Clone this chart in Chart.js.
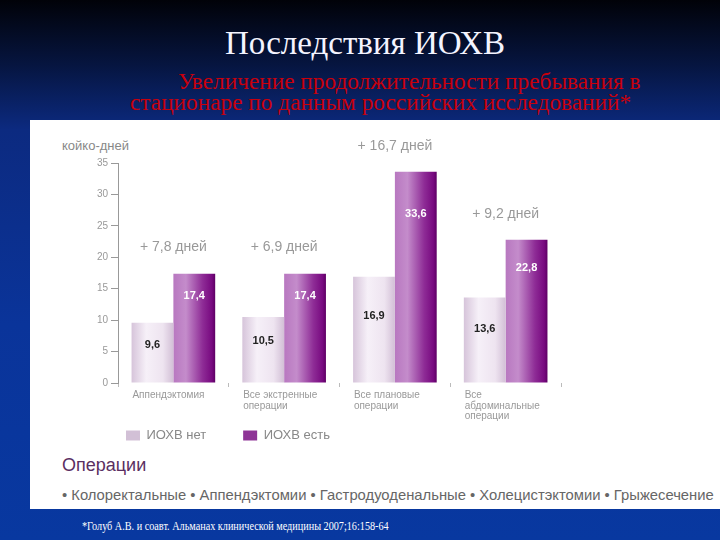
<!DOCTYPE html>
<html>
<head>
<meta charset="utf-8">
<script src="https://cdn.jsdelivr.net/npm/chart.js@4/dist/chart.umd.min.js"></script>
<style>
  body { margin: 0; width: 720px; height: 540px; overflow: hidden;
         background: linear-gradient(#010208 0%, #061540 12%, #0c2a80 24%, #0a349a 60%, #0838a0 100%);
         position: relative; font-family: "Liberation Sans", Arial, sans-serif; }
  .title { position: absolute; left: 0; width: 730px; top: 25px; text-align: center;
           font: 33px "Liberation Serif", serif; color: #f4f4ff; }
  .sub { position: absolute; color: #c8000c; font: 23.3px "Liberation Serif", serif; white-space: nowrap; }
  .panel { position: absolute; left: 30px; top: 120px; width: 690px; height: 389px; background: #fff; }
  .unit { position: absolute; left: 62px; top: 138px; font-size: 13px; color: #888; }
  .ops { position: absolute; left: 62px; top: 455px; font-size: 18px; color: #5a2f62; }
  .list { position: absolute; left: 62px; top: 487px; font-size: 14.8px; color: #666; white-space: nowrap; }
  .note { position: absolute; left: 82px; top: 519px; font: 12px "Liberation Serif", serif; color: #fff;
          white-space: nowrap; transform: scaleX(0.85); transform-origin: left center; }
  #wrap { position: absolute; left: 60px; top: 130px; width: 524px; height: 322px; }
</style>
</head>
<body>
<div class="title">Последствия ИОХВ</div>
<div class="sub" style="left:178px; top:68px;">Увеличение продолжительности пребывания в</div>
<div class="sub" style="left:130px; top:89px;">стационаре по данным российских исследований*</div>
<div class="panel"></div>
<div class="unit">койко-дней</div>
<div id="wrap"><canvas id="myChart"></canvas></div>
<div class="ops">Операции</div>
<div class="list">• Колоректальные • Аппендэктомии • Гастродуоденальные • Холецистэктомии • Грыжесечение</div>
<div class="note">*Голуб А.В. и соавт. Альманах клинической медицины 2007;16:158-64</div>
<script>
// categories and values (койко-дней)
var categories = [
    'Аппендэктомия',
    ['Все экстренные', 'операции'],
    ['Все плановые', 'операции'],
    ['Все', 'абдоминальные', 'операции']
];
var noInfection = [9.6, 10.5, 16.9, 13.6];
var withInfection = [17.4, 17.4, 33.6, 22.8];
var seriesNames = ['ИОХВ нет', 'ИОХВ есть'];
var yTicks = [0, 5, 10, 15, 20, 25, 30, 35];

var catPct = 0.755;

function fmt(v) {
    return v.toFixed(1).replace('.', ',');
}

// horizontal gradient per bar to get the cylinder look
function barFill(stops, flat) {
    return function(c) {
        var chart = c.chart;
        if (!chart.chartArea || c.dataIndex === undefined) return flat;
        var xs = chart.scales.x;
        var center = xs.getPixelForValue(c.dataIndex);
        var w = (xs.width / categories.length) * catPct / 2;
        var left = c.datasetIndex === 0 ? center - w : center;
        var g = chart.ctx.createLinearGradient(left, 0, left + w, 0);
        stops.forEach(function(s) { g.addColorStop(s[0], s[1]); });
        return g;
    };
}

var valueLabels = {
    id: 'valueLabels',
    afterDatasetsDraw: function(chart) {
        var ctx = chart.ctx;
        var m0 = chart.getDatasetMeta(0).data;
        var m1 = chart.getDatasetMeta(1).data;
        var base = chart.scales.y.getPixelForValue(0);
        ctx.save();
        ctx.textAlign = 'center';
        ctx.textBaseline = 'middle';
        ctx.font = 'bold 11px "Liberation Sans", Arial';
        m0.forEach(function(el, i) {
            ctx.fillStyle = '#222';
            ctx.fillText(fmt(noInfection[i]), el.x, el.y + (base - el.y) * 0.37);
        });
        m1.forEach(function(el, i) {
            ctx.fillStyle = '#fff';
            ctx.fillText(fmt(withInfection[i]), el.x, el.y + (base - el.y) * 0.2);
        });
        // difference above each group
        ctx.font = '14px "Liberation Sans", Arial';
        ctx.fillStyle = '#999';
        m1.forEach(function(el, i) {
            var cx = chart.scales.x.getPixelForValue(i);
            var d = withInfection[i] - noInfection[i];
            ctx.fillText('+ ' + fmt(d) + ' дней', cx, el.y - 26);
        });
        ctx.restore();
    }
};

var graphData = {
    type: 'bar',
    data: {
        labels: categories,
        datasets: [{
            label: seriesNames[0],
            data: noInfection,
            backgroundColor: barFill([[0, '#d6c4da'], [0.35, '#f6f0f8'], [0.75, '#eee4f0'], [1, '#d2bfd6']], '#d8c8dc'),
            barPercentage: 1,
            categoryPercentage: catPct
        }, {
            label: seriesNames[1],
            data: withInfection,
            backgroundColor: barFill([[0, '#b878c0'], [0.3, '#c48ccb'], [0.7, '#8e2c96'], [0.92, '#780a80'], [1, '#5e0064']], '#8e3496'),
            barPercentage: 1,
            categoryPercentage: catPct
        }]
    },
    options: {
        responsive: true,
        maintainAspectRatio: false,
        animation: false,
        layout: { padding: { top: 33, right: 2, left: 0, bottom: 0 } },
        plugins: {
            tooltip: { enabled: false },
            legend: {
                position: 'bottom',
                align: 'start',
                fullSize: false,
                labels: {
                    boxWidth: 14,
                    boxHeight: 10,
                    padding: 8,
                    color: '#888',
                    font: { size: 13, family: '"Liberation Sans", Arial' },
                    generateLabels: function(chart) {
                        return seriesNames.map(function(n, i) {
                            return {
                                text: i === 0 ? n + '        ' : n,
                                fillStyle: i === 0 ? '#d2c0d6' : '#8e3496',
                                strokeStyle: 'transparent',
                                lineWidth: 0,
                                datasetIndex: i,
                                fontColor: '#888'
                            };
                        });
                    }
                }
            }
        },
        scales: {
            x: {
                border: { display: false },
                grid: { drawOnChartArea: false, tickLength: 4, color: '#bbb' },
                ticks: {
                    align: 'start',
                    labelOffset: -41,
                    padding: 3,
                    color: '#999',
                    font: { size: 10, family: '"Liberation Sans", Arial', lineHeight: 1.05 }
                },
                afterFit: function(s) { s.height = 38; }
            },
            y: {
                min: 0,
                max: 35,
                border: { display: true, color: '#999' },
                grid: { drawOnChartArea: false, tickLength: 7, color: '#999' },
                afterBuildTicks: function(s) {
                    s.ticks = yTicks.map(function(v) { return { value: v }; });
                },
                ticks: {
                    padding: 3,
                    color: '#999',
                    font: { size: 10, family: '"Liberation Sans", Arial' }
                },
                afterFit: function(s) { s.width = 58; }
            }
        }
    },
    plugins: [valueLabels]
};

var ctx = document.getElementById('myChart').getContext('2d');
var myChart = new Chart(ctx, graphData);
</script>
</body>
</html>
